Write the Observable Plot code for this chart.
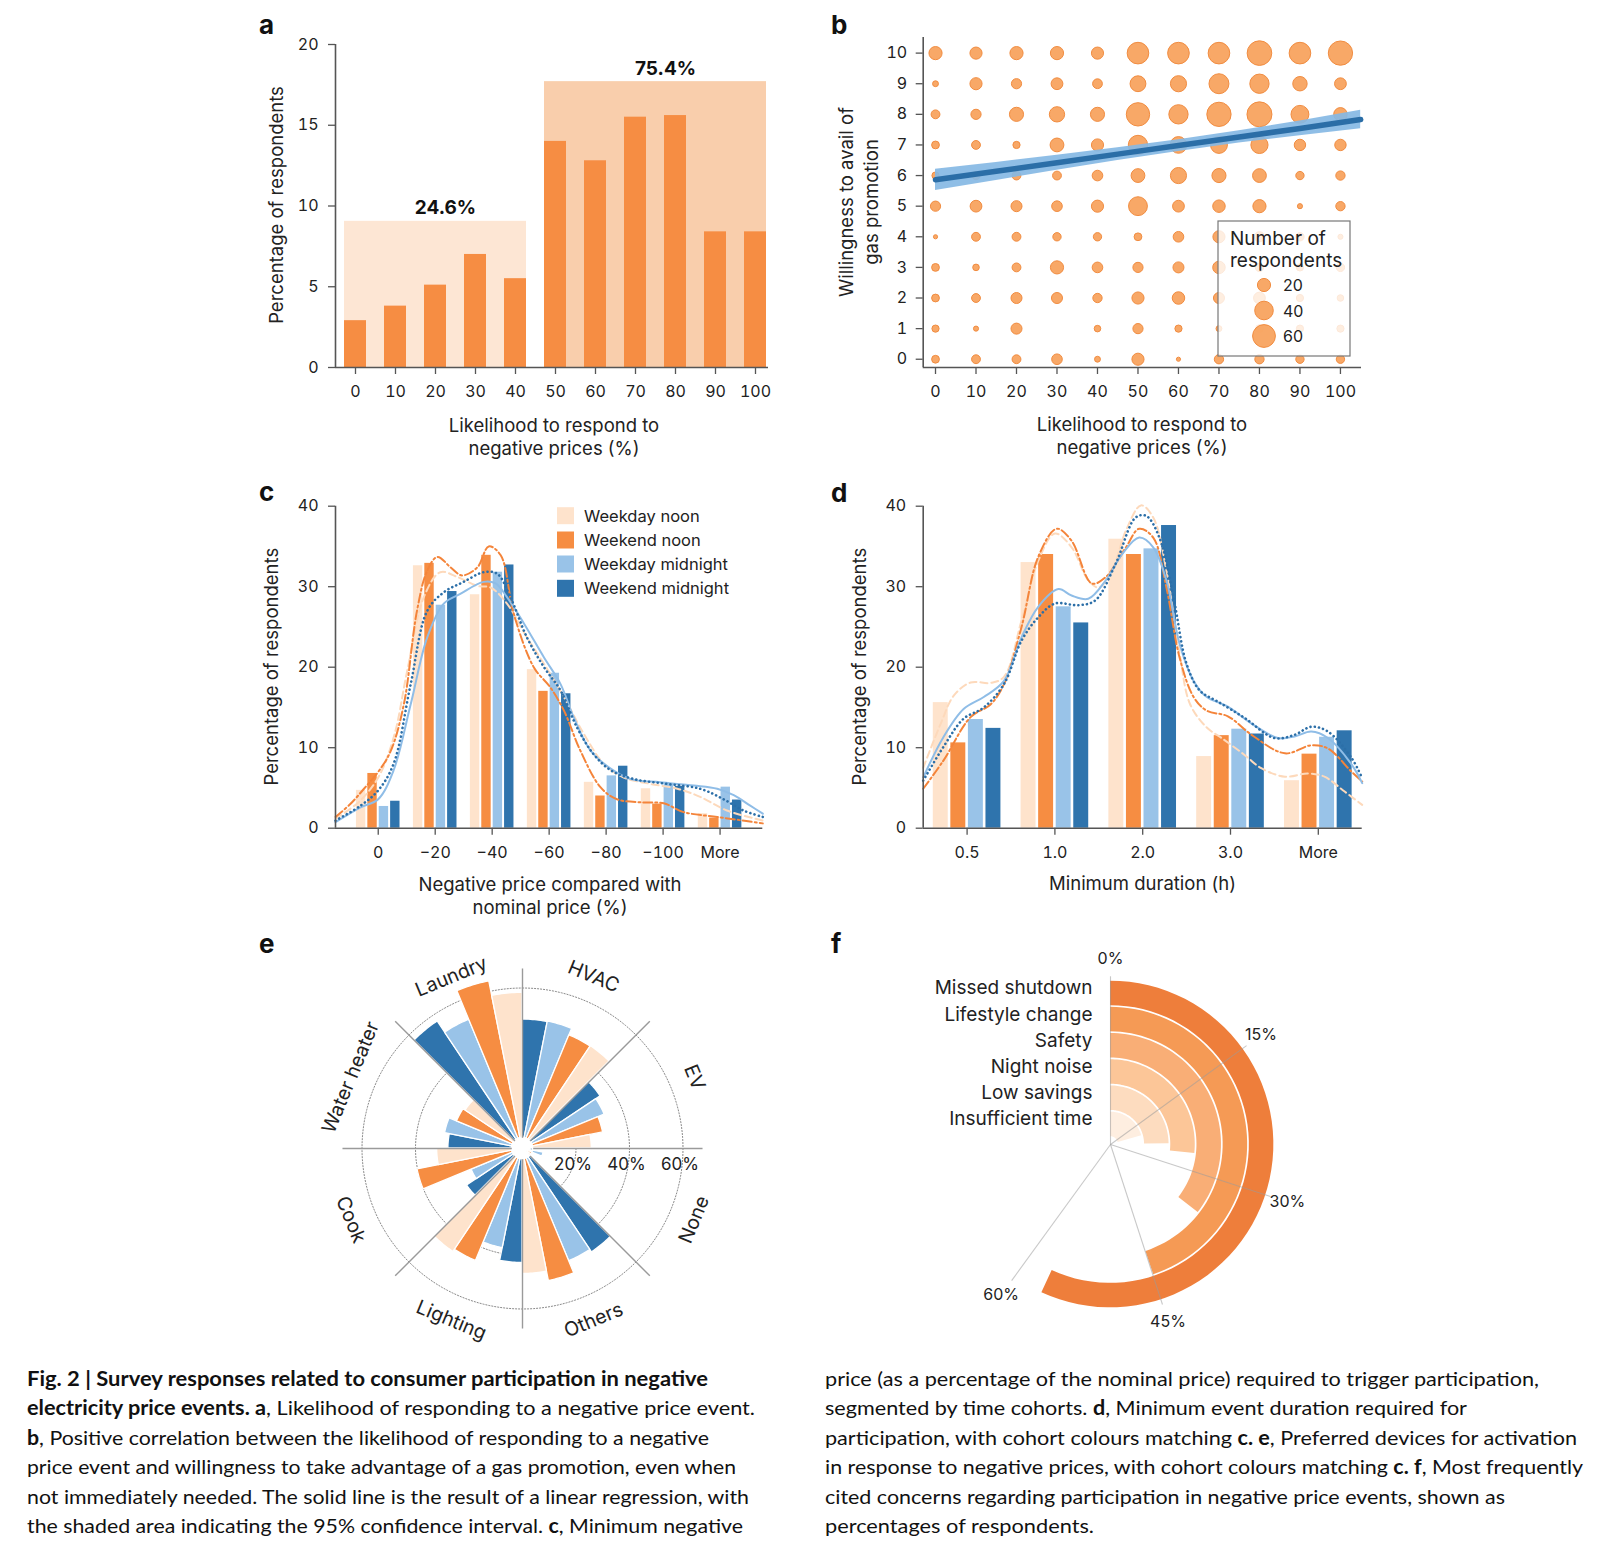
<!DOCTYPE html>
<html><head><meta charset="utf-8">
<script src="https://cdn.jsdelivr.net/npm/d3@7"></script>
<script src="https://cdn.jsdelivr.net/npm/@observablehq/plot@0.6"></script>
<style>
html,body{margin:0;padding:0;background:#fff;}
#root{position:relative;width:1618px;height:1552px;overflow:hidden;background:#fff;font-family:Inter,sans-serif;color:#222;}
</style></head><body><div id="root"></div>
<script>
// ================= DATA =================
// Panel a
const likelihoodLevels = [0,10,20,30,40,50,60,70,80,90,100];
const likelihoodShare = [2.9,3.8,5.1,7.0,5.5,14.0,12.8,15.5,15.6,8.4,8.4];
const groupLabels = ["24.6%","75.4%"];
const groupFrom = [0,50];
const groupTo = [40,100];
const groupBoxTop = [9.05,17.7];
const groupFills = ["#fde6d4","#f9ceac"];
const shareTicks = [0,5,10,15,20];

// Panel b : counts of respondents, index = willingness level, columns = likelihood 0..100
const willingnessLevels = [0,1,2,3,4,5,6,7,8,9,10];
const countsW0  = [7, 9, 9, 13, 4, 17, 2, 10, 10, 8, 8];
const countsW1  = [6, 3, 14, 0, 5, 12, 6, 4, 7, 6, 6];
const countsW2  = [7, 9, 14, 14, 10, 17, 18, 14, 16, 6, 5];
const countsW3  = [7, 5, 9, 20, 13, 12, 14, 18, 8, 6, 8];
const countsW4  = [2, 9, 9, 8, 8, 7, 13, 17, 12, 8, 3];
const countsW5  = [12, 16, 14, 13, 17, 41, 16, 18, 20, 3, 10];
const countsW6  = [6, 8, 9, 9, 13, 22, 30, 23, 22, 8, 10];
const countsW7  = [7, 9, 6, 22, 17, 43, 32, 33, 34, 15, 15];
const countsW8  = [9, 12, 23, 27, 23, 63, 43, 68, 72, 37, 21];
const countsW9  = [4, 17, 12, 16, 11, 29, 30, 46, 43, 24, 16];
const countsW10 = [20, 17, 20, 20, 17, 54, 54, 54, 70, 54, 68];
const regressionX = [0,15,30,45,60,75,90,105];
const regressionFit = [5.86,6.14,6.42,6.70,6.98,7.26,7.54,7.83];
const regressionLow = [5.51,5.84,6.17,6.49,6.79,7.06,7.30,7.53];
const regressionHigh = [6.21,6.43,6.66,6.91,7.17,7.46,7.78,8.13];
const sizeLegendValues = [20,40,60];

// Panels c and d : cohorts
const cohortNames = ["Weekday noon","Weekend noon","Weekday midnight","Weekend midnight"];
const cohortColors = ["#fee3cc","#f68d42","#99c3e8","#2f74ad"];
const priceLabels = ["0","\u221220","\u221240","\u221260","\u221280","\u2212100","More"];
const priceWeekdayNoon      = [4.7,32.6,29.0,19.7,5.7,4.9,1.8];
const priceWeekendNoon      = [6.8,32.9,33.9,17.0,4.0,3.0,1.25];
const priceWeekdayMidnight  = [2.7,27.7,31.8,19.25,6.5,5.5,5.1];
const priceWeekendMidnight  = [3.35,29.4,32.7,16.7,7.7,5.2,3.5];
const priceCurveWeekdayNoon = [[-0.75,1.2],[-0.35,3.2],[0,6.3],[0.28,11.5],[0.51,19.6],[0.8,28.7],[1.09,31.8],[1.39,31.2],[1.74,30.1],[1.97,29.9],[2.26,27.9],[2.61,23.7],[2.91,20.4],[3.26,16.3],[3.61,11.7],[3.96,8.0],[4.31,6.3],[4.78,5.5],[5.25,4.9],[5.65,3.9],[6.12,2.2],[6.75,0.95]];
const priceCurveWeekendNoon = [[-0.75,1.4],[-0.49,3.0],[-0.25,4.9],[0,7.0],[0.22,9.6],[0.45,15.4],[0.68,27.0],[0.86,32.0],[1.04,33.7],[1.27,32.4],[1.47,31.4],[1.74,32.4],[1.94,35.0],[2.15,33.9],[2.38,26.6],[2.73,20.0],[3.02,17.5],[3.26,14.6],[3.55,9.6],[3.9,5.1],[4.19,3.6],[4.66,3.2],[5.01,3.1],[5.36,2.0],[5.95,1.4],[6.75,0.6]];
const priceCurveWeekdayMidnight = [[-0.75,0.75],[-0.31,2.6],[0,3.6],[0.27,7.2],[0.57,15.4],[0.86,23.7],[1.15,27.9],[1.44,29.1],[1.85,30.6],[2.06,30.4],[2.26,28.7],[2.56,25.4],[2.91,21.2],[3.2,17.9],[3.43,13.8],[3.73,9.6],[4.08,7.4],[4.43,6.1],[4.95,5.7],[5.54,5.3],[5.95,4.9],[6.24,4.1],[6.53,2.8],[6.75,1.8]];
const priceCurveWeekendMidnight = [[-0.75,0.95],[-0.31,2.8],[0,4.7],[0.27,8.0],[0.57,17.9],[0.86,27.0],[1.15,29.3],[1.5,30.6],[1.85,31.8],[2.09,31.6],[2.32,28.7],[2.61,23.7],[2.91,20.0],[3.2,17.1],[3.49,12.5],[3.78,9.2],[4.08,7.2],[4.49,6.1],[5.07,5.5],[5.65,4.9],[6.06,3.6],[6.41,2.2],[6.75,1.4]];

const durationLabels = ["0.5","1.0","2.0","3.0","More"];
const durWeekdayNoon     = [15.6,33.0,35.9,8.9,5.9];
const durWeekendNoon     = [10.6,34.0,34.0,11.5,9.2];
const durWeekdayMidnight = [13.5,27.5,34.7,12.3,11.3];
const durWeekendMidnight = [12.4,25.5,37.6,11.7,12.1];
const durCurveWeekdayNoon = [[-0.5,7.5],[-0.3,13.0],[-0.15,16.5],[0.04,18.1],[0.27,18.05],[0.42,18.8],[0.62,25.8],[0.81,33.2],[1.0,36.6],[1.19,34.9],[1.38,30.8],[1.5,29.9],[1.65,32.0],[1.81,37.0],[1.98,40.1],[2.12,38.6],[2.27,32.0],[2.42,21.7],[2.54,15.4],[2.73,12.5],[2.9,11.2],[3.16,9.1],[3.35,7.45],[3.62,6.4],[3.88,6.8],[4.07,6.4],[4.3,4.55],[4.5,2.9]];
const durCurveWeekendNoon = [[-0.5,4.9],[-0.27,8.4],[0.04,13.8],[0.27,15.4],[0.42,17.9],[0.62,25.0],[0.81,33.7],[1.02,37.2],[1.19,35.7],[1.42,30.4],[1.58,31.2],[1.81,34.9],[1.96,37.2],[2.12,36.1],[2.27,29.9],[2.42,21.2],[2.58,16.3],[2.73,14.6],[2.97,13.9],[3.24,11.6],[3.62,9.3],[3.92,10.3],[4.11,9.9],[4.38,7.0],[4.5,5.8]];
const durCurveWeekdayMidnight = [[-0.5,6.3],[-0.27,11.3],[-0.04,14.8],[0.19,16.3],[0.42,18.3],[0.62,23.7],[0.81,27.5],[1.04,29.7],[1.19,28.9],[1.38,28.5],[1.58,30.8],[1.77,34.1],[1.96,36.1],[2.12,34.9],[2.27,30.8],[2.42,22.9],[2.58,18.3],[2.73,16.3],[2.97,15.1],[3.24,13.0],[3.54,11.2],[3.73,11.4],[3.92,12.0],[4.11,11.2],[4.38,7.9],[4.5,5.6]];
const durCurveWeekendMidnight = [[-0.5,5.9],[-0.27,10.1],[-0.04,13.6],[0.19,15.0],[0.42,17.9],[0.62,23.3],[0.81,26.2],[1.0,27.9],[1.27,27.7],[1.46,28.3],[1.69,32.8],[1.92,38.6],[2.04,38.8],[2.19,36.1],[2.35,28.7],[2.5,20.4],[2.65,17.1],[2.86,15.7],[3.16,13.7],[3.5,11.2],[3.73,11.6],[3.92,12.6],[4.11,12.0],[4.38,8.7],[4.5,6.2]];
const pctTicks40 = [0,10,20,30,40];

// Panel e : preferred devices (% of respondents)
const devices = ["HVAC","EV","None","Others","Lighting","Cook","Water heater","Laundry"];
const devWeekdayNoon     = [46.0,25.9,3,46.9,46.5,31.9,25.6,58.2];
const devWeekendNoon     = [45.8,30.7,2,50.5,45.5,40.0,26.5,63.7];
const devWeekdayMidnight = [48.4,33.2,8,45.6,38.0,20.6,29.5,52.1];
const devWeekendMidnight = [48.2,35.1,3,46.7,42.8,24.9,27.7,57.1];
const radialTicks = [20,40,60];

// Panel f : concerns (% of respondents), innermost first
const concerns = ["Insufficient time","Low savings","Night noise","Safety","Lifestyle change","Missed shutdown"];
const concernShare = [20.7,24.8,26.7,35.5,44.9,56.9];
const concernColors = ["#feeee0","#fddcbf","#fcc698","#f9ae76","#f59a55","#ee7e3b"];
const angularTicks = [0,15,30,45,60];

// ================= HELPERS =================
const root = document.getElementById("root");
function place(el, left, top){
  const w = document.createElement("div");
  w.style.cssText = `position:absolute;left:${left}px;top:${top}px;`;
  w.appendChild(el); root.appendChild(w); return el;
}
const baseStyle = {fontFamily:"Inter, sans-serif", fontSize:"16px", color:"#222", background:"transparent", overflow:"visible"};
const axisCommon = {tickSize:7, stroke:"#555", strokeWidth:1.3, fill:"#222", fontSize:16, label:null};
const axisLine = {stroke:"#555", strokeWidth:1.6};
const deg = Math.PI/180;

// ================= PANEL A =================
const halfBarA = 2.75;
const groupsA = groupLabels.map((label,i)=>({label, x1:groupFrom[i]-halfBarA, x2:groupTo[i]+halfBarA, mid:(groupFrom[i]+groupTo[i])/2, top:groupBoxTop[i], fill:groupFills[i]}));
const barsA = likelihoodLevels.map((x,i)=>({x, v:likelihoodShare[i]}));
const xDomA = [-5, 103.25];
place(Plot.plot({
  width:530, height:380, marginLeft:85, marginRight:12, marginTop:24, marginBottom:33,
  style:baseStyle, x:{domain:xDomA}, y:{domain:[0,20]}, color:{type:"identity"},
  marks:[
    Plot.rect(groupsA,{x1:"x1",x2:"x2",y1:0,y2:"top",fill:"fill"}),
    Plot.rect(barsA,{x1:d=>d.x-halfBarA,x2:d=>d.x+halfBarA,y1:0,y2:"v",fill:"#f68d43"}),
    Plot.text(groupsA,{x:"mid",y:"top",text:"label",dx:10,dy:-13,fontWeight:"bold",fontSize:19,fill:"#111"}),
    Plot.axisX({...axisCommon, ticks:likelihoodLevels, tickPadding:11}),
    Plot.axisY({...axisCommon, ticks:shareTicks, tickPadding:10}),
    Plot.ruleX([xDomA[0]], axisLine),
    Plot.ruleY([0], axisLine)
  ]
}), 250, 20);

// ================= PANEL B =================
const countRows = [countsW0,countsW1,countsW2,countsW3,countsW4,countsW5,countsW6,countsW7,countsW8,countsW9,countsW10];
const dotsB = [];
willingnessLevels.forEach((w,wi)=>likelihoodLevels.forEach((l,li)=>dotsB.push({x:l,y:w,n:countRows[wi][li]})));
const regB = regressionX.map((x,i)=>({x, fit:regressionFit[i], lo:regressionLow[i], hi:regressionHigh[i]}));
const xDomB = [-3.04, 105.2], yDomB = [-0.27, 10.51];
const plotB = place(Plot.plot({
  width:580, height:380, marginLeft:122.7, marginRight:19, marginTop:17, marginBottom:33,
  style:baseStyle, x:{domain:xDomB}, y:{domain:yDomB},
  r:{type:"sqrt", domain:[0,60], range:[0,11.4]},
  marks:[
    Plot.dot(dotsB,{x:"x",y:"y",r:"n",fill:"#f7a15a",fillOpacity:0.92,stroke:"#f18c40",strokeWidth:1}),
    Plot.areaY(regB,{x:"x",y1:"lo",y2:"hi",fill:"#86b8e4",fillOpacity:0.92}),
    Plot.line(regB,{x:"x",y:"fit",stroke:"#2b6ea7",strokeWidth:5.5}),
    Plot.axisX({...axisCommon, ticks:likelihoodLevels, tickPadding:11}),
    Plot.axisY({...axisCommon, ticks:willingnessLevels, tickPadding:9}),
    Plot.ruleX([xDomB[0]], axisLine),
    Plot.ruleY([yDomB[0]], axisLine)
  ]
}), 800, 20);

// ================= PANELS C & D =================
const lineStyles = [
  {stroke:"#fdd9bb", strokeWidth:2, strokeDasharray:"7,4"},
  {stroke:"#f4843a", strokeWidth:2, strokeDasharray:"9,3,2,3"},
  {stroke:"#8fbde7", strokeWidth:2},
  {stroke:"#2c6fa8", strokeWidth:2.6, strokeDasharray:"0.1,4.2", strokeLinecap:"round"}
];
function cohortPanel(series, curves, labels, xDom, opts, left, top, inset){
  const bars = [];
  series.forEach((vals,j)=>vals.forEach((v,i)=>bars.push({x1:i+(j-2)*0.2, x2:i+(j-1)*0.2, v, fill:cohortColors[j]})));
  const curveMarks = curves.map((pts,j)=>Plot.line(pts,{x:d=>d[0],y:d=>d[1],curve:"catmull-rom",...lineStyles[j]}));
  return place(Plot.plot({
    ...opts, style:baseStyle, x:{domain:xDom}, y:{domain:[0,40]}, color:{type:"identity"},
    marks:[
      Plot.rect(bars,{x1:"x1",x2:"x2",y1:0,y2:"v",fill:"fill",insetLeft:inset,insetRight:inset}),
      ...curveMarks,
      Plot.axisX({...axisCommon, ticks:d3.range(labels.length), tickFormat:i=>labels[i], tickPadding:11}),
      Plot.axisY({...axisCommon, ticks:pctTicks40, tickPadding:10}),
      Plot.ruleX([xDom[0]], axisLine),
      Plot.ruleY([0], axisLine)
    ]
  }), left, top);
}
cohortPanel([priceWeekdayNoon,priceWeekendNoon,priceWeekdayMidnight,priceWeekendMidnight],
  [priceCurveWeekdayNoon,priceCurveWeekendNoon,priceCurveWeekdayMidnight,priceCurveWeekendMidnight],
  priceLabels, [-0.75,6.75],
  {width:530,height:400,marginLeft:85,marginRight:17.7,marginTop:35.7,marginBottom:42.3}, 250, 470, 1.0);
cohortPanel([durWeekdayNoon,durWeekendNoon,durWeekdayMidnight,durWeekendMidnight],
  [durCurveWeekdayNoon,durCurveWeekendNoon,durCurveWeekdayMidnight,durCurveWeekendMidnight],
  durationLabels, [-0.5,4.5],
  {width:580,height:400,marginLeft:122.7,marginRight:18.3,marginTop:35.7,marginBottom:42.3}, 800, 470, 1.3);

// ================= PANEL E =================
const devSeries = [devWeekdayNoon,devWeekendNoon,devWeekdayMidnight,devWeekendMidnight];
const slotOrder = [3,2,1,0]; // clockwise inside each sector
const innerE = 4, spokeE = 67.3;
const wedgePts = [];
devices.forEach((dev,k)=>slotOrder.forEach((c,slot)=>{
  const v = devSeries[c][k];
  const a0 = 45*k + 11.25*slot, a1 = a0 + 11.25;
  for(let s=0;s<=12;s++){
    const a = (a0+(a1-a0)*s/12)*deg;
    wedgePts.push({id:k+"-"+c, fill:cohortColors[c], xi:innerE*Math.sin(a), yi:innerE*Math.cos(a), xo:v*Math.sin(a), yo:v*Math.cos(a)});
  }
}));
const circlePts = [];
radialTicks.forEach(r=>{ for(let a=0;a<=360;a+=2) circlePts.push({r, x:r*Math.sin(a*deg), y:r*Math.cos(a*deg)}); });
const spokes = d3.range(8).map(k=>({a:45*k*deg}));
const devLabels = devices.map((d,k)=>{ const a = 45*k+22.5; return {text:d, x:69.5*Math.sin(a*deg), y:69.5*Math.cos(a*deg), rot:(a<=90||a>=270)?a:a-180}; });
const RE = 210/2.675;
place(Plot.plot({
  width:420, height:420, margin:0, style:baseStyle,
  x:{domain:[-RE,RE], axis:null}, y:{domain:[-RE,RE], axis:null}, color:{type:"identity"},
  marks:[
    Plot.line(circlePts,{x:"x",y:"y",z:"r",stroke:"#8a8a8a",strokeWidth:1,strokeDasharray:"1.2,1.8"}),
    Plot.area(wedgePts,{x1:"xi",y1:"yi",x2:"xo",y2:"yo",z:"id",fill:"fill",stroke:"white",strokeWidth:1.3}),
    Plot.link(spokes,{x1:d=>innerE*Math.sin(d.a),y1:d=>innerE*Math.cos(d.a),x2:d=>spokeE*Math.sin(d.a),y2:d=>spokeE*Math.cos(d.a),stroke:"#9a9a9a",strokeWidth:1.4}),
    Plot.text(radialTicks,{x:d=>d,y:0,text:d=>d+"%",dx:-3,dy:16,fontSize:17,fill:"#222"}),
    Plot.text(devLabels,{x:"x",y:"y",text:"text",rotate:"rot",fontSize:19.5,fill:"#222"})
  ]
}), 521.7-210, 1148.3-210);

// ================= PANEL F =================
const ringInner = 0.3, ringWidth = 0.935, RF = 220/26.2;
const ringPts = [];
concerns.forEach((c,i)=>{
  const r0 = i+ringInner, r1 = r0+ringWidth, end = concernShare[i]*3.6;
  for(let s=0;s<=60;s++){
    const a = end*s/60*deg;
    ringPts.push({id:c, fill:concernColors[i], xi:r0*Math.sin(a), yi:r0*Math.cos(a), xo:r1*Math.sin(a), yo:r1*Math.cos(a)});
  }
});
place(Plot.plot({
  width:440, height:440, margin:0, style:baseStyle,
  x:{domain:[-RF,RF], axis:null}, y:{domain:[-RF,RF], axis:null}, color:{type:"identity"},
  marks:[
    Plot.area(ringPts,{x1:"xi",y1:"yi",x2:"xo",y2:"yo",z:"id",fill:"fill"}),
    Plot.link(angularTicks,{x1:0,y1:0,x2:d=>6.42*Math.sin(d*3.6*deg),y2:d=>6.42*Math.cos(d*3.6*deg),stroke:"#9a9a9a",strokeOpacity:0.55,strokeWidth:1.1}),
    Plot.text(angularTicks,{x:d=>7.1*Math.sin(d*3.6*deg),y:d=>7.1*Math.cos(d*3.6*deg),text:d=>d+"%",fontSize:16,fill:"#222"}),
    Plot.text(concerns,{x:0,y:(d,i)=>i+ringInner+ringWidth/2,text:d=>d,textAnchor:"end",dx:-18,dy:-5,fontSize:19,fill:"#222"})
  ]
}), 1110-220, 1144-220);

// ================= OVERLAY TEXT =================
const ov = d3.create("svg").attr("width",1618).attr("height",1552)
  .style("position","absolute").style("left","0px").style("top","0px")
  .style("font-family","Inter, sans-serif").style("fill","#222");
root.appendChild(ov.node());

// panel letters
[["a",259,34],["b",831,34],["c",259,501],["d",831,502],["e",259,953],["f",831,953]].forEach(([t,x,y])=>
  ov.append("text").attr("x",x).attr("y",y).attr("font-size",26).attr("font-weight",700).attr("fill","#111").text(t));

// axis titles
function title(t,x,y,rot){
  ov.append("text").attr("transform",`translate(${x},${y})${rot?" rotate(-90)":""}`)
    .attr("text-anchor","middle").attr("dominant-baseline","central").attr("font-size",18.5).attr("fill","#222").text(t);
}
title("Percentage of respondents",276,205,true);
title("Likelihood to respond to",554,425); title("negative prices (%)",554,448);
title("Willingness to avail of",845.6,202,true); title("gas promotion",871,202,true);
title("Likelihood to respond to",1142,424); title("negative prices (%)",1142,447);
title("Percentage of respondents",270.7,666.7,true);
title("Negative price compared with",550,884); title("nominal price (%)",550,907);
title("Percentage of respondents",859,666.7,true);
title("Minimum duration (h)",1142.5,883);

// legend c
const legRows = [515.7,540,564,588.3];
cohortNames.forEach((n,i)=>{
  ov.append("rect").attr("x",557).attr("y",legRows[i]-8.5).attr("width",17).attr("height",17).attr("fill",cohortColors[i]);
  ov.append("text").attr("x",584).attr("y",legRows[i]).attr("dominant-baseline","central").attr("font-size",16.5).attr("fill","#222").text(n);
});

// legend b (size legend through plotB's r scale)
const rScale = plotB.scale("r");
ov.append("rect").attr("x",1218).attr("y",221).attr("width",132).attr("height",135)
  .attr("fill","white").attr("fill-opacity",0.8).attr("stroke","#777").attr("stroke-width",1.2);
ov.append("text").attr("x",1230).attr("y",238).attr("dominant-baseline","central").attr("font-size",19).text("Number of");
ov.append("text").attr("x",1230).attr("y",260).attr("dominant-baseline","central").attr("font-size",19).text("respondents");
const legY = [285,310.5,336];
sizeLegendValues.forEach((v,i)=>{
  ov.append("circle").attr("cx",1264).attr("cy",legY[i]).attr("r",rScale.apply(v))
    .attr("fill","#f7a15a").attr("fill-opacity",0.92).attr("stroke","#f18c40").attr("stroke-width",1);
  ov.append("text").attr("x",1283).attr("y",legY[i]).attr("dominant-baseline","central").attr("font-size",16).text(v);
});

// caption
const capBase = [1385.7,1415.2,1444.7,1474.2,1503.7,1533.2];
const capLeft = [
  [681,[["Fig. 2 | Survey responses related to consumer participation in negative",1]]],
  [728,[["electricity price events. a",1],[", Likelihood of responding to a negative price event.",0]]],
  [682,[["b",1],[", Positive correlation between the likelihood of responding to a negative",0]]],
  [709,[["price event and willingness to take advantage of a gas promotion, even when",0]]],
  [722,[["not immediately needed. The solid line is the result of a linear regression, with",0]]],
  [716,[["the shaded area indicating the 95% confidence interval. ",0],["c",1],[", Minimum negative",0]]]
];
const capRight = [
  [714,[["price (as a percentage of the nominal price) required to trigger participation,",0]]],
  [642,[["segmented by time cohorts. ",0],["d",1],[", Minimum event duration required for",0]]],
  [752,[["participation, with cohort colours matching ",0],["c. e",1],[", Preferred devices for activation",0]]],
  [758,[["in response to negative prices, with cohort colours matching ",0],["c. f",1],[", Most frequently",0]]],
  [680,[["cited concerns regarding participation in negative price events, shown as",0]]],
  [269,[["percentages of respondents.",0]]]
];
function capCol(lines,x){
  lines.forEach(([len,segs],i)=>{
    const t = ov.append("text").attr("x",x).attr("y",capBase[i]).attr("font-family","Lato, 'Open Sans', sans-serif")
      .attr("font-size",20).attr("fill","#111").attr("textLength",len).attr("lengthAdjust","spacingAndGlyphs")
      .style("white-space","pre");
    segs.forEach(([s,b])=>t.append("tspan").attr("font-weight",b?700:400).text(s));
  });
}
capCol(capLeft,27);
capCol(capRight,825);
</script></body></html>
